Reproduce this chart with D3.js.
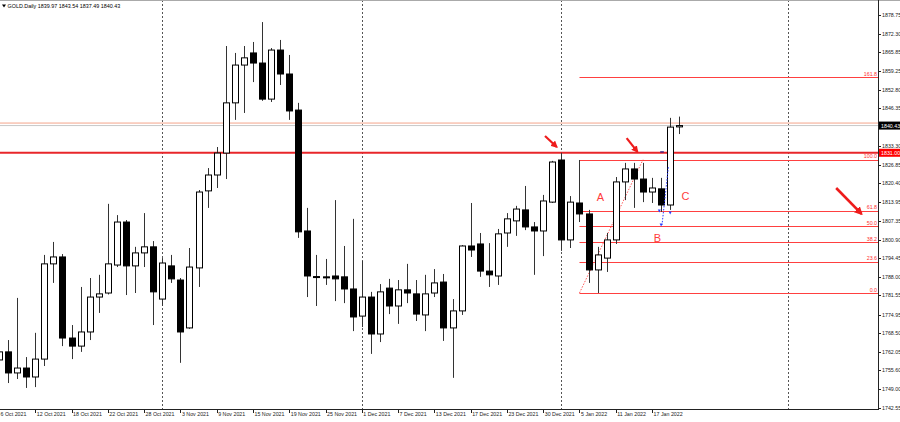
<!DOCTYPE html>
<html><head><meta charset="utf-8">
<script src="https://cdn.jsdelivr.net/npm/d3@7"></script>
<style>
html,body{margin:0;padding:0;background:#fff;}
svg{display:block;}
text{font-family:"Liberation Sans",Arial,sans-serif;}
</style></head>
<body>
<svg id="c" width="900" height="422"></svg>
<script>
// ---- data ----
const dates = ["2021-10-06","2021-10-07","2021-10-08","2021-10-11","2021-10-12","2021-10-13","2021-10-14","2021-10-15","2021-10-18","2021-10-19","2021-10-20","2021-10-21","2021-10-22","2021-10-25","2021-10-26","2021-10-27","2021-10-28","2021-10-29","2021-11-01","2021-11-02","2021-11-03","2021-11-04","2021-11-05","2021-11-08","2021-11-09","2021-11-10","2021-11-11","2021-11-12","2021-11-15","2021-11-16","2021-11-17","2021-11-18","2021-11-19","2021-11-22","2021-11-23","2021-11-24","2021-11-25","2021-11-26","2021-11-29","2021-11-30","2021-12-01","2021-12-02","2021-12-03","2021-12-06","2021-12-07","2021-12-08","2021-12-09","2021-12-10","2021-12-13","2021-12-14","2021-12-15","2021-12-16","2021-12-17","2021-12-20","2021-12-21","2021-12-22","2021-12-23","2021-12-27","2021-12-28","2021-12-29","2021-12-30","2021-12-31","2022-01-03","2022-01-04","2022-01-05","2022-01-06","2022-01-07","2022-01-10","2022-01-11","2022-01-12","2022-01-13","2022-01-14","2022-01-17","2022-01-18","2022-01-19","2022-01-20"];
const open  = [1759.2,1762.0,1754.7,1756.4,1753.3,1759.5,1792.5,1794.9,1766.8,1764.0,1768.9,1781.0,1782.4,1792.1,1807.0,1791.8,1796.3,1798.4,1780.3,1791.8,1786.9,1770.3,1791.1,1817.8,1823.3,1830.9,1848.3,1861.4,1865.6,1862.1,1849.6,1866.6,1858.3,1845.8,1803.9,1788.1,1788.0,1788.3,1788.0,1783.8,1774.4,1781.0,1768.2,1784.1,1777.9,1783.5,1782.1,1774.8,1782.4,1786.2,1770.3,1776.2,1798.7,1799.4,1790.0,1788.3,1803.2,1807.4,1811.2,1805.3,1803.9,1813.9,1828.5,1800.8,1813.6,1809.8,1790.4,1794.5,1800.8,1820.9,1825.4,1821.9,1817.4,1818.5,1812.9,1839.97];
const high  = [1764.0,1766.1,1780.7,1760.2,1768.6,1795.6,1800.1,1795.9,1771.3,1784.5,1787.6,1788.7,1813.3,1809.4,1807.7,1798.4,1810.1,1800.4,1794.5,1795.6,1787.6,1798.0,1818.1,1825.7,1833.0,1868.0,1865.6,1868.0,1869.4,1876.3,1867.3,1870.1,1864.9,1848.3,1811.9,1795.6,1794.2,1814.6,1798.7,1808.1,1793.5,1782.8,1785.5,1787.3,1786.9,1792.5,1786.9,1788.7,1790.7,1789.0,1780.3,1799.0,1813.6,1803.2,1799.7,1804.6,1810.1,1812.6,1819.5,1807.0,1816.4,1828.2,1831.0,1816.0,1828.5,1811.2,1798.4,1803.2,1822.6,1827.5,1827.5,1827.5,1822.3,1822.3,1843.1,1843.54];
const low   = [1757.1,1751.2,1752.6,1749.5,1749.8,1757.1,1785.9,1764.0,1759.5,1762.0,1766.1,1775.5,1781.9,1791.4,1781.7,1782.4,1791.4,1771.3,1777.9,1785.9,1758.2,1770.0,1784.5,1811.9,1818.8,1821.9,1842.4,1844.8,1855.5,1849.0,1848.6,1854.5,1842.4,1801.5,1781.0,1777.9,1785.2,1779.6,1778.9,1769.2,1770.6,1761.3,1765.4,1775.1,1771.7,1778.9,1772.7,1769.2,1781.0,1765.8,1753.0,1774.8,1794.9,1788.0,1784.5,1785.2,1798.4,1802.2,1804.2,1788.7,1795.2,1813.6,1797.0,1798.0,1807.0,1785.9,1782.4,1789.7,1799.4,1814.6,1811.9,1813.9,1813.6,1810.5,1811.2,1837.49];
const close = [1762.0,1754.7,1756.4,1753.3,1759.5,1792.5,1794.9,1766.8,1764.0,1768.9,1781.0,1782.1,1792.5,1807.0,1791.8,1796.3,1798.4,1782.8,1792.8,1787.3,1768.9,1791.4,1817.4,1823.3,1830.9,1848.3,1861.4,1863.9,1862.1,1849.6,1866.6,1858.3,1845.5,1803.6,1788.3,1787.9,1787.8,1787.3,1783.8,1774.1,1781.0,1768.2,1782.8,1777.9,1783.5,1782.4,1775.1,1782.1,1785.9,1770.3,1776.2,1798.7,1797.3,1790.0,1788.7,1802.9,1808.1,1811.5,1805.3,1803.9,1814.3,1827.8,1800.8,1813.9,1809.8,1790.4,1795.6,1800.8,1820.9,1825.4,1821.9,1817.4,1818.8,1812.9,1839.9,1840.43];
const yTicks = [1878.75,1872.30,1865.85,1859.25,1852.80,1846.35,1839.90,1833.30,1826.85,1820.40,1813.95,1807.35,1800.90,1794.45,1788.00,1781.55,1774.95,1768.50,1762.05,1755.60,1749.00,1742.55];
const labelEvery = 4;
const separators = [18, 40, 62, 87];
const fibLow = 1782.4, fibHigh = 1828.6, fibStart = 64, fibEndAnchor = 71;
const fibLevels = [0, 23.6, 38.2, 50.0, 61.8, 100.0, 161.8];
const levelLine = 1831.00;
const bidPrice = 1840.43, askLinePrice = 1841.3;
const title = "GOLD.Daily 1839.97 1843.54 1837.49 1840.43";
const arrows = [ {x1:60.2,y1:1836.8,x2:61.5,y2:1833.0,w:2.2}, {x1:69.2,y1:1836.1,x2:70.4,y2:1831.3,w:2.2}, {x1:92.3,y1:1818.8,x2:95.1,y2:1809.8,w:2.6} ];
const letters = [ {t:"A",x:66.3,y:1815.7}, {t:"B",x:72.6,y:1801.5}, {t:"C",x:75.7,y:1816.1} ];
const blueLine = [ {x:73.8,p:1826.0}, {x:73.1,p:1806.0} ];
const blueMarks = [ {x:72.8,p:1810.8}, {x:74.0,p:1810.1}, {x:73.0,p:1806.0} ];
const blueDash = {x1:72.9,x2:73.3,p:1831.3};

// ---- layout ----
const W = 900, H = 422;
const plotR = 878, plotB = 409;
const svg = d3.select("#c");
const x = d3.scaleLinear().domain([0, 75]).range([-1, 679.25]);
const y = d3.scaleLinear().domain([1742.55, 1878.75]).range([408, 15]);
const parse = d3.timeParse("%Y-%m-%d");
const fmt = d3.timeFormat("%-d %b %Y");

svg.append("clipPath").attr("id","clip").append("rect").attr("x",0).attr("y",0).attr("width",plotR).attr("height",plotB);
const g = svg.append("g").attr("clip-path","url(#clip)");

// separators
g.selectAll("line.sep").data(separators).join("line")
  .attr("x1", d=>Math.round(x(d))+0.5).attr("x2", d=>Math.round(x(d))+0.5)
  .attr("y1", 0).attr("y2", plotB)
  .attr("stroke","#555").attr("stroke-width",1).attr("stroke-dasharray","2,2");

// bid / ask lines
g.append("line").attr("x1",0).attr("x2",plotR).attr("y1",y(askLinePrice)).attr("y2",y(askLinePrice))
  .attr("stroke","#f4a58a").attr("stroke-width",1);
g.append("line").attr("x1",0).attr("x2",plotR).attr("y1",y(bidPrice)).attr("y2",y(bidPrice))
  .attr("stroke","#c8c8c8").attr("stroke-width",1);

// main horizontal level
g.append("line").attr("x1",0).attr("x2",plotR).attr("y1",y(levelLine)).attr("y2",y(levelLine))
  .attr("stroke","#e8262a").attr("stroke-width",2);

// fibonacci
const fibPrice = l => fibLow + (fibHigh - fibLow) * l / 100;
g.selectAll("line.fib").data(fibLevels).join("line")
  .attr("x1", x(fibStart)).attr("x2", plotR)
  .attr("y1", d=>Math.round(y(fibPrice(d)))+0.5).attr("y2", d=>Math.round(y(fibPrice(d)))+0.5)
  .attr("stroke","#ff4040").attr("stroke-width",1);
g.append("line").attr("x1",x(fibStart)).attr("y1",y(fibLow)).attr("x2",x(fibEndAnchor)).attr("y2",y(fibHigh))
  .attr("stroke","#ff5a5a").attr("stroke-width",1).attr("stroke-dasharray","1.5,1.5");
g.selectAll("text.fib").data(fibLevels).join("text")
  .attr("x", plotR-1).attr("y", d=>y(fibPrice(d))-1.5)
  .attr("text-anchor","end").attr("font-size",5.3).attr("fill","#ff3030")
  .text(d=>d.toFixed(1));

// candles
const candles = dates.map((d,i)=>({i, o:open[i], h:high[i], l:low[i], c:close[i]}));
const bw = 6;
const cg = g.append("g");
cg.selectAll("line.wick").data(candles).join("line")
  .attr("x1", d=>Math.round(x(d.i))+0.5).attr("x2", d=>Math.round(x(d.i))+0.5)
  .attr("y1", d=>y(d.h)).attr("y2", d=>y(d.l))
  .attr("stroke","#333").attr("stroke-width",1);
cg.selectAll("rect.body").data(candles).join("rect")
  .attr("x", d=>Math.round(x(d.i))-bw/2+0.5)
  .attr("y", d=>y(Math.max(d.o,d.c)))
  .attr("width", bw)
  .attr("height", d=>Math.max(1, Math.abs(y(d.o)-y(d.c))))
  .attr("fill", d=>d.c>=d.o ? "#fff" : "#000")
  .attr("stroke","#000").attr("stroke-width",1);

// blue marks
g.append("line").attr("x1",x(blueLine[0].x)).attr("y1",y(blueLine[0].p)).attr("x2",x(blueLine[1].x)).attr("y2",y(blueLine[1].p))
  .attr("stroke","#2a3cff").attr("stroke-width",1).attr("stroke-dasharray","1.5,1.5");
g.selectAll("path.bm").data(blueMarks).join("path")
  .attr("transform", d=>`translate(${x(d.x)},${y(d.p)})`)
  .attr("d","M-1.5,-1.5 L1.5,-1.5 L0,1.5 z").attr("fill","#2a3cff");
g.append("line").attr("x1",x(blueDash.x1)).attr("x2",x(blueDash.x2)).attr("y1",y(blueDash.p)).attr("y2",y(blueDash.p))
  .attr("stroke","#1a1a8c").attr("stroke-width",1.2);

// arrows
const defs = svg.append("defs");
defs.append("marker").attr("id","ah").attr("viewBox","0 0 10 10").attr("refX",8).attr("refY",5)
  .attr("markerWidth",3.2).attr("markerHeight",3.2).attr("orient","auto")
  .append("path").attr("d","M0,0 L10,5 L0,10 z").attr("fill","#ee1c1c");
g.selectAll("line.arr").data(arrows).join("line")
  .attr("x1",d=>x(d.x1)).attr("y1",d=>y(d.y1)).attr("x2",d=>x(d.x2)).attr("y2",d=>y(d.y2))
  .attr("stroke","#ee1c1c").attr("stroke-width",d=>d.w).attr("marker-end","url(#ah)");

// letters
g.selectAll("text.let").data(letters).join("text")
  .attr("x",d=>x(d.x)).attr("y",d=>y(d.y)+4).attr("text-anchor","middle")
  .attr("font-size",11).attr("fill","#ff3b3b").text(d=>d.t);

// axes frame
svg.append("line").attr("x1",0).attr("x2",W).attr("y1",0.5).attr("y2",0.5).attr("stroke","#aaa");
svg.append("line").attr("x1",plotR+0.5).attr("x2",plotR+0.5).attr("y1",0).attr("y2",plotB+1).attr("stroke","#222");
svg.append("line").attr("x1",0).attr("x2",plotR+1).attr("y1",plotB+0.5).attr("y2",plotB+0.5).attr("stroke","#222");

// right axis
const ya = svg.append("g");
ya.selectAll("line").data(yTicks).join("line")
  .attr("x1",plotR).attr("x2",plotR+3).attr("y1",d=>Math.round(y(d))+0.5).attr("y2",d=>Math.round(y(d))+0.5).attr("stroke","#222");
ya.selectAll("text").data(yTicks).join("text")
  .attr("x",plotR+4).attr("y",d=>y(d)+2).attr("font-size",5.3).attr("fill","#222")
  .text(d=>d.toFixed(2));

// price boxes
function box(p, fill){
  const yy = y(p);
  svg.append("rect").attr("x",plotR+1).attr("y",yy-4).attr("width",W-plotR-1).attr("height",8).attr("fill",fill);
  svg.append("text").attr("x",plotR+3).attr("y",yy+2).attr("font-size",5.3).attr("fill","#fff").text(p.toFixed(2));
}
box(bidPrice, "#000");
box(levelLine, "#f00");

// bottom axis
const tickIdx = d3.range(0, dates.length, labelEvery);
const xa = svg.append("g");
xa.selectAll("line").data(tickIdx).join("line")
  .attr("x1",d=>Math.round(x(d))+0.5).attr("x2",d=>Math.round(x(d))+0.5)
  .attr("y1",plotB).attr("y2",plotB+4).attr("stroke","#222");
xa.selectAll("text").data(tickIdx).join("text")
  .attr("x",d=>x(d)+1.5).attr("y",plotB+7).attr("font-size",5.3).attr("fill","#222")
  .text(d=>fmt(parse(dates[d])));

// title
svg.append("path").attr("d","M2,4.5 L6,4.5 L4,7.5 z").attr("fill","#000");
svg.append("text").attr("x",7.5).attr("y",8).attr("font-size",5.4).attr("fill","#000").text(title);
</script>
</body></html>
